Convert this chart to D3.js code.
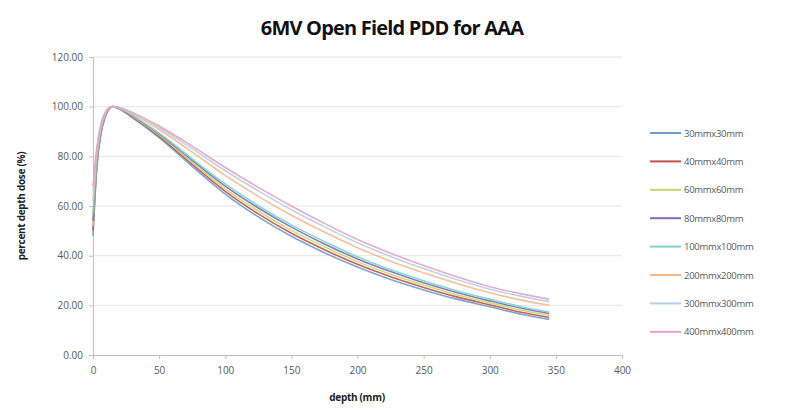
<!DOCTYPE html>
<html>
<head>
<meta charset="utf-8">
<script src="https://cdn.jsdelivr.net/npm/d3@7"></script>
<style>
  body { margin: 0; background: #fff; }
  svg { display: block; font-family: "Open Sans", "DejaVu Sans", sans-serif; }
</style>
</head>
<body>
<svg id="chart" width="796" height="411"></svg>
<script>
// depth grid (mm) shared by every series
const depths = [0, 3, 6, 9, 12, 15, 20, 30, 50, 75, 100, 125, 150, 175, 200, 225, 250, 275, 300, 325, 345];

const fieldNames = ['30mmx30mm', '40mmx40mm', '60mmx60mm', '80mmx80mm',
                    '100mmx100mm', '200mmx200mm', '300mmx300mm', '400mmx400mm'];
const fieldColors = ['#6f9ccb', '#c0504d', '#c5d86d', '#7e6cb8',
                     '#7fd3cb', '#f6b98c', '#b8cde6', '#e3a3c4'];

// percent depth dose
const pdd30  = [48, 76, 89.0, 95.5, 98.9, 100, 99.0, 95.5, 87.5, 76.0, 64.8, 55.6, 47.8, 41.2, 35.4, 30.4, 26.2, 22.5, 19.4, 16.3, 14.3];
const pdd40  = [50, 77, 89.5, 95.7, 99.0, 100, 99.1, 95.7, 88.0, 76.8, 65.9, 56.8, 49.0, 42.4, 36.5, 31.5, 27.2, 23.4, 20.2, 17.1, 15.1];
const pdd60  = [52, 78, 90.0, 96.0, 99.0, 100, 99.2, 96.0, 88.5, 77.6, 66.9, 58.0, 50.2, 43.6, 37.6, 32.5, 28.2, 24.3, 21.0, 17.9, 15.9];
const pdd80  = [54, 79, 90.5, 96.2, 99.1, 100, 99.3, 96.2, 89.0, 78.4, 68.0, 59.2, 51.5, 44.7, 38.7, 33.6, 29.1, 25.2, 21.8, 18.7, 16.7];
const pdd100 = [57, 80, 91.0, 96.5, 99.2, 100, 99.3, 96.4, 89.3, 79.0, 68.9, 60.1, 52.4, 45.7, 39.6, 34.4, 29.9, 25.9, 22.5, 19.3, 17.3];
const pdd200 = [62, 82, 92.0, 97.0, 99.4, 100, 99.5, 97.0, 90.8, 81.7, 72.3, 63.9, 56.3, 49.5, 43.2, 37.8, 33.1, 28.8, 25.1, 22.0, 20.0];
const pdd300 = [66, 83, 92.5, 97.2, 99.5, 100, 99.6, 97.4, 91.6, 83.1, 74.2, 66.1, 58.5, 51.6, 45.2, 39.7, 34.8, 30.4, 26.5, 23.5, 21.5];
const pdd400 = [68, 84, 93.0, 97.5, 99.6, 100, 99.7, 97.6, 92.2, 84.1, 75.5, 67.5, 60.0, 53.0, 46.5, 41.0, 36.0, 31.5, 27.5, 24.5, 22.5];

const pddSeries = [pdd30, pdd40, pdd60, pdd80, pdd100, pdd200, pdd300, pdd400];

const xTicks = [0, 50, 100, 150, 200, 250, 300, 350, 400];
const yTicks = [0, 20, 40, 60, 80, 100, 120];

const svg = d3.select('#chart');
const plotLeft = 93, plotRight = 622, plotTop = 57, plotBottom = 355;

const x = d3.scaleLinear().domain([0, 400]).range([plotLeft, plotRight]);
const y = d3.scaleLinear().domain([0, 120]).range([plotBottom, plotTop]);

// title
svg.append('text')
  .attr('x', 392).attr('y', 35)
  .attr('text-anchor', 'middle')
  .attr('font-size', 20).attr('font-weight', 'bold')
  .attr('letter-spacing', -0.8)
  .attr('fill', '#111')
  .text('6MV Open Field PDD for AAA');

// horizontal gridlines
svg.append('g')
  .selectAll('line')
  .data(yTicks.filter(d => d > 0))
  .enter().append('line')
  .attr('x1', plotLeft).attr('x2', plotRight)
  .attr('y1', d => y(d)).attr('y2', d => y(d))
  .attr('stroke', '#e6e6e6').attr('stroke-width', 1);

// axes
const xAxis = d3.axisBottom(x).tickValues(xTicks).tickSize(4).tickSizeOuter(0).tickPadding(8);
const xG = svg.append('g').attr('transform', `translate(0,${plotBottom})`).call(xAxis);
const yAxis = d3.axisLeft(y).tickValues(yTicks).tickSize(4).tickSizeOuter(0).tickPadding(6)
  .tickFormat(d => d.toFixed(2));
const yG = svg.append('g').attr('transform', `translate(${plotLeft},0)`).call(yAxis);
[xG, yG].forEach(g => {
  g.select('.domain').attr('stroke', '#bfbfbf');
  g.selectAll('.tick line').attr('stroke', '#bfbfbf');
  g.selectAll('.tick text').attr('fill', '#595959').style('font-size', '10px')
    .style('font-family', '"Open Sans", sans-serif');
});

// axis titles
svg.append('text')
  .attr('x', 357).attr('y', 401)
  .attr('text-anchor', 'middle')
  .attr('font-size', 10).attr('font-weight', 'bold').attr('fill', '#222')
  .attr('letter-spacing', -0.3)
  .text('depth (mm)');
svg.append('text')
  .attr('transform', `translate(25,${y(60)}) rotate(-90)`)
  .attr('text-anchor', 'middle')
  .attr('font-size', 10).attr('font-weight', 'bold').attr('fill', '#222')
  .attr('letter-spacing', -0.3)
  .text('percent depth dose (%)');

// curves
const line = d3.line()
  .x((d, i) => x(depths[i]))
  .y(d => y(d))
  .curve(d3.curveMonotoneX);

svg.append('g')
  .selectAll('path')
  .data(pddSeries)
  .enter().append('path')
  .attr('d', d => line(d))
  .attr('fill', 'none')
  .attr('stroke', (d, i) => fieldColors[i])
  .attr('stroke-width', 1.6)
  .attr('opacity', 0.9);

// legend
const legendTop = 133, legendStep = 28.4;
const legend = svg.append('g')
  .selectAll('g')
  .data(fieldNames)
  .enter().append('g')
  .attr('transform', (d, i) => `translate(650,${legendTop + i * legendStep})`);
legend.append('line')
  .attr('x1', 0).attr('x2', 31)
  .attr('stroke', (d, i) => fieldColors[i])
  .attr('stroke-width', 2);
legend.append('text')
  .attr('x', 34).attr('y', 3.5)
  .attr('font-size', 9.5).attr('fill', '#595959')
  .attr('letter-spacing', -0.3)
  .text(d => d);
</script>
</body>
</html>
